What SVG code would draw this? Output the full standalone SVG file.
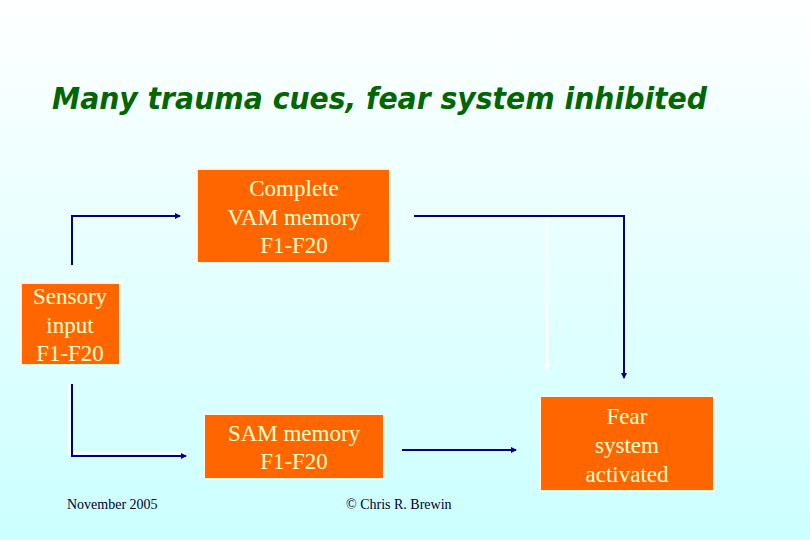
<svg xmlns="http://www.w3.org/2000/svg" width="810" height="540" viewBox="0 0 810 540">
<defs>
<linearGradient id="bg" x1="0" y1="0" x2="0" y2="1">
<stop offset="0" stop-color="#ffffff"/>
<stop offset="1" stop-color="#ccffff"/>
</linearGradient>
<marker id="ah" viewBox="0 0 6 6" refX="5" refY="3" markerWidth="3" markerHeight="3" orient="auto" markerUnits="strokeWidth">
<path d="M0,0 L6,3 L0,6 z" fill="#000080"/>
</marker>
<marker id="aw" viewBox="0 0 6 6" refX="5" refY="3" markerWidth="3" markerHeight="3" orient="auto" markerUnits="strokeWidth">
<path d="M0,0 L6,3 L0,6 z" fill="#ffffff"/>
</marker>
</defs>
<style>
.box{fill:#ff6600;stroke:#fff5e6;stroke-width:2}
.bt{font-family:"Liberation Serif",serif;font-size:23px;fill:#ffffcc;text-anchor:middle}
.c{fill:none;stroke:#000080;stroke-width:2}
.w{fill:none;stroke:#ffffff;stroke-width:2.5}
.ft{font-family:"Liberation Serif",serif;font-size:14px;fill:#000033}
</style>
<rect width="810" height="540" fill="url(#bg)"/>
<text x="52" y="109" font-family="DejaVu Sans, sans-serif" font-weight="bold" font-style="italic" font-size="30" fill="#006600" textLength="655" lengthAdjust="spacingAndGlyphs">Many trauma cues, fear system inhibited</text>
<g id="connectors">
<line class="w" x1="547" y1="218" x2="547" y2="370" marker-end="url(#aw)"/>
<polyline class="w" points="69,384 69,453 186,453"/>
<polyline class="c" points="72,265 72,216 180,216" marker-end="url(#ah)"/>
<polyline class="c" points="414,216 624,216 624,378" marker-end="url(#ah)"/>
<polyline class="c" points="72,384 72,456 186,456" marker-end="url(#ah)"/>
<line class="c" x1="402" y1="450" x2="516" y2="450" marker-end="url(#ah)"/>
</g>
<g id="vam">
<rect class="box" x="197" y="169" width="193" height="94"/>
<text class="bt" x="294" y="196">Complete</text>
<text class="bt" x="294" y="225">VAM memory</text>
<text class="bt" x="294" y="253">F1-F20</text>
</g>
<g id="sensory">
<rect class="box" x="21" y="283" width="99" height="82"/>
<text class="bt" x="70" y="304">Sensory</text>
<text class="bt" x="70" y="333">input</text>
<text class="bt" x="70" y="361">F1-F20</text>
</g>
<g id="sam">
<rect class="box" x="204" y="414" width="180" height="65"/>
<text class="bt" x="294" y="441">SAM memory</text>
<text class="bt" x="294" y="469">F1-F20</text>
</g>
<g id="fear">
<rect class="box" x="540" y="396" width="174" height="95"/>
<text class="bt" x="627" y="424">Fear</text>
<text class="bt" x="627" y="453">system</text>
<text class="bt" x="627" y="482">activated</text>
</g>
<text class="ft" x="67" y="509">November 2005</text>
<text class="ft" x="346" y="509">© Chris R. Brewin</text>
</svg>
